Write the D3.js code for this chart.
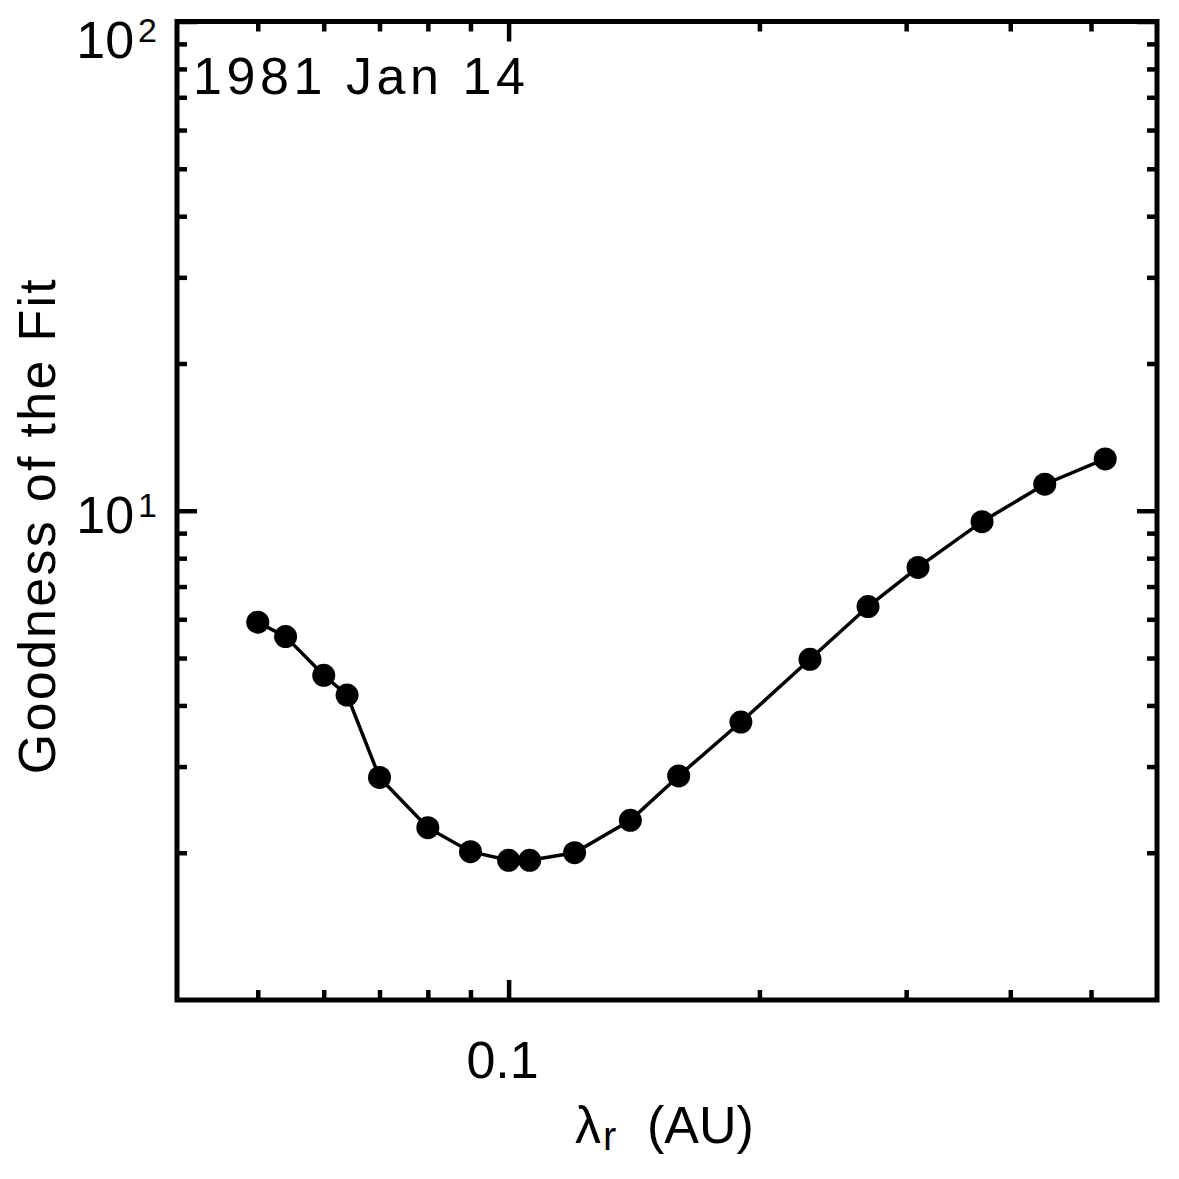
<!DOCTYPE html>
<html>
<head>
<meta charset="utf-8">
<script src="https://cdn.jsdelivr.net/npm/d3@7"></script>
<style>
  html, body { margin: 0; padding: 0; background: #fff; }
  text { font-family: 'Liberation Sans', 'DejaVu Sans', sans-serif; fill: #000; }
</style>
</head>
<body>
<div id="root"></div>
<script>
const width = 1179;
const height = 1179;
const margin = { top: 21.5, right: 22, bottom: 179, left: 177 };

// Data

const lambdaR = [
  0.05, 0.054, 0.06, 0.064, 0.07, 0.08, 0.09, 0.1, 0.106, 0.12,
  0.14, 0.16, 0.19, 0.23, 0.27, 0.31, 0.37, 0.44, 0.52,
];
const goodness = [
  5.92, 5.53, 4.61, 4.2, 2.85, 2.25, 2.01, 1.93, 1.93, 2.0,
  2.33, 2.87, 3.7, 4.97, 6.37, 7.66, 9.5, 11.33, 12.76,
];

const xDomain = [0.04, 0.6];
const yDomain = [1, 100];
const xMajorTicks = [0.1];
const xMinorTicks = [0.05, 0.06, 0.07, 0.08, 0.09, 0.2, 0.3, 0.4, 0.5];
const xTickLabels = ['0.1'];
const yMajorTicks = [10, 100];
const yMinorTicks = [2, 3, 4, 5, 6, 7, 8, 9, 20, 30, 40, 50, 60, 70, 80, 90];
const yTickExponents = ['1', '2'];

const title = '1981 Jan 14';
const yTitle = 'Goodness of the Fit';

const data = lambdaR.map((x, i) => ({ x, y: goodness[i] }));

// Main canvas

const svg = d3
  .select('#root')
  .append('svg')
  .attr('width', width)
  .attr('height', height);

// Scales

const xScale = d3
  .scaleLog()
  .domain(xDomain)
  .range([margin.left, width - margin.right]);

const yScale = d3
  .scaleLog()
  .domain(yDomain)
  .range([height - margin.bottom, margin.top]);

const plotW = width - margin.left - margin.right;
const plotH = height - margin.top - margin.bottom;

// Ticks (inward, on all four sides)

function tickAxis(axis, values, size, transform) {
  const g = svg
    .append('g')
    .attr('transform', transform)
    .call(axis.tickValues(values).tickSize(-size).tickSizeOuter(0).tickFormat(''));
  g.select('.domain').remove();
  g.selectAll('line').attr('stroke', '#000').attr('stroke-width', 4.5);
  return g;
}

const bottomY = height - margin.bottom;
const rightX = width - margin.right;

tickAxis(d3.axisBottom(xScale), xMinorTicks, 10, `translate(0, ${bottomY})`);
tickAxis(d3.axisBottom(xScale), xMajorTicks, 20, `translate(0, ${bottomY})`);
tickAxis(d3.axisTop(xScale), xMinorTicks, 10, `translate(0, ${margin.top})`);
tickAxis(d3.axisTop(xScale), xMajorTicks, 20, `translate(0, ${margin.top})`);
tickAxis(d3.axisLeft(yScale), yMinorTicks, 10, `translate(${margin.left}, 0)`);
tickAxis(d3.axisLeft(yScale), yMajorTicks, 20, `translate(${margin.left}, 0)`);
tickAxis(d3.axisRight(yScale), yMinorTicks, 10, `translate(${rightX}, 0)`);
tickAxis(d3.axisRight(yScale), yMajorTicks, 20, `translate(${rightX}, 0)`);

// Frame

svg
  .append('rect')
  .attr('x', margin.left)
  .attr('y', margin.top)
  .attr('width', plotW)
  .attr('height', plotH)
  .attr('fill', 'none')
  .attr('stroke', '#000')
  .attr('stroke-width', 5);

// Tick labels

svg
  .selectAll('.x-label')
  .data(xMajorTicks)
  .enter()
  .append('text')
  .attr('class', 'x-label')
  .attr('x', (d) => xScale(d) - 6)
  .attr('y', bottomY + 78)
  .attr('text-anchor', 'middle')
  .attr('font-size', 52)
  .text((d, i) => xTickLabels[i]);

const yLabel = svg
  .selectAll('.y-label')
  .data(yMajorTicks)
  .enter()
  .append('text')
  .attr('class', 'y-label')
  .attr('x', margin.left - 20)
  .attr('y', (d) => Math.max(yScale(d) + 22, margin.top + 36))
  .attr('text-anchor', 'end')
  .attr('font-size', 52);

yLabel.append('tspan').text('10');
yLabel
  .append('tspan')
  .attr('dy', -16)
  .attr('dx', 4)
  .attr('font-size', 34)
  .text((d, i) => yTickExponents[i]);

// Line and points

const line = d3
  .line()
  .x((d) => xScale(d.x))
  .y((d) => yScale(d.y));

svg
  .append('path')
  .datum(data)
  .attr('d', line)
  .attr('fill', 'none')
  .attr('stroke', '#000')
  .attr('stroke-width', 3.5);

svg
  .selectAll('circle')
  .data(data)
  .enter()
  .append('circle')
  .attr('cx', (d) => xScale(d.x))
  .attr('cy', (d) => yScale(d.y))
  .attr('r', 11.5)
  .attr('fill', '#000');

// Titles

svg
  .append('text')
  .attr('x', margin.left + 16)
  .attr('y', margin.top + 72)
  .attr('font-size', 52)
  .attr('textLength', 332)
  .attr('lengthAdjust', 'spacing')
  .text(title);

const xTitle = svg
  .append('text')
  .attr('x', 575)
  .attr('y', bottomY + 143)
  .attr('font-size', 52);

xTitle.append('tspan').text('λ');
xTitle.append('tspan').attr('dy', 7).attr('dx', 2).attr('font-size', 40).text('r');
xTitle.append('tspan').attr('dy', -7).attr('x', 647).text('(AU)');

svg
  .append('text')
  .attr('transform', `translate(55, ${margin.top + plotH / 2 + 16}) rotate(-90)`)
  .attr('text-anchor', 'middle')
  .attr('font-size', 52)
  .attr('textLength', 495)
  .attr('lengthAdjust', 'spacing')
  .text(yTitle);
</script>
</body>
</html>
